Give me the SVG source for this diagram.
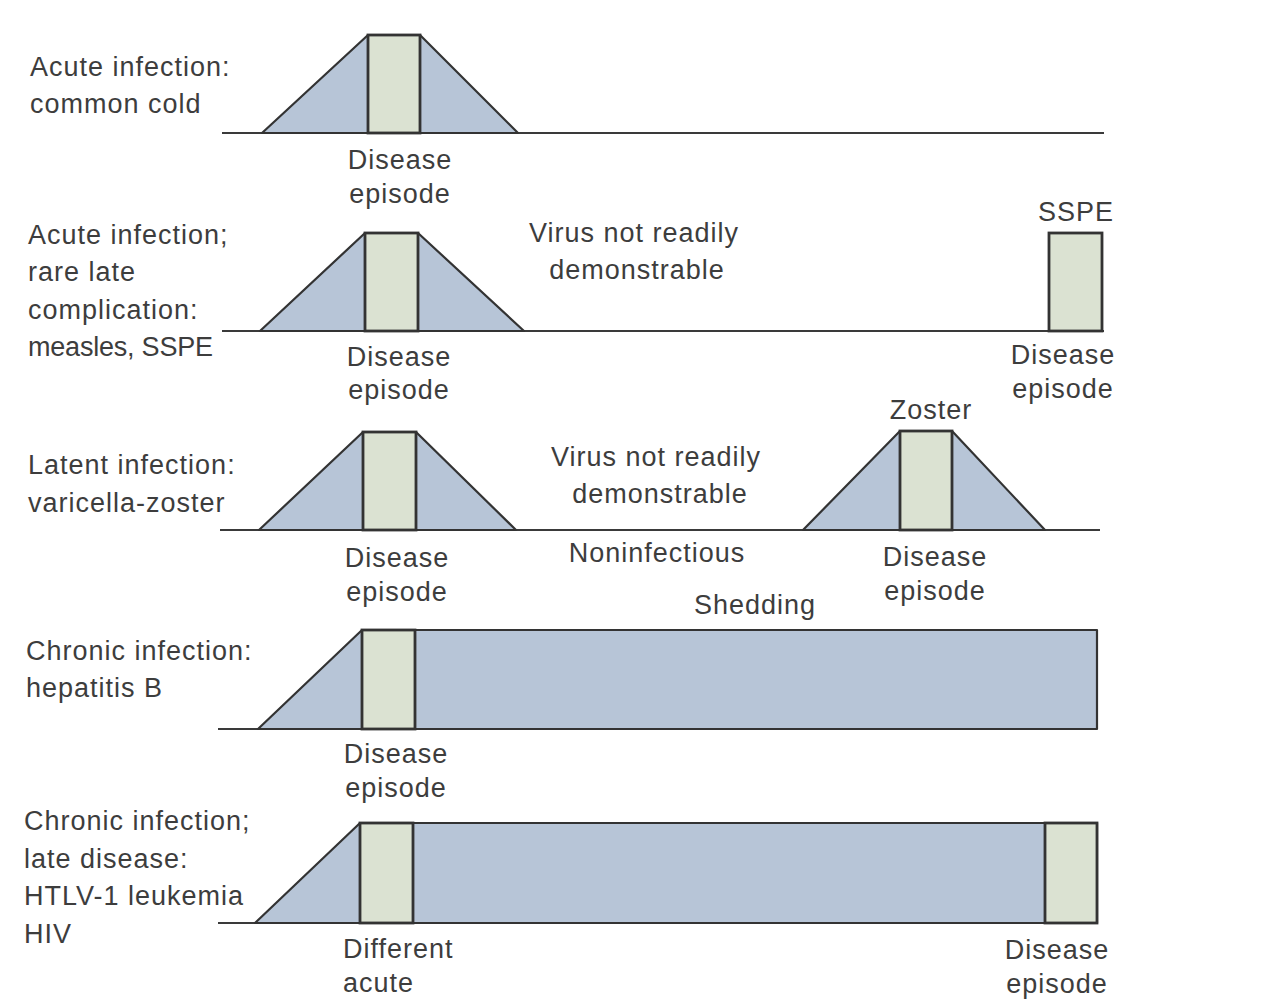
<svg xmlns="http://www.w3.org/2000/svg" width="1273" height="1006" viewBox="0 0 1273 1006">
  <style>
    .bg { fill: #ffffff; }
    .axis { stroke: #3a3a3a; stroke-width: 2.2; fill: none; }
    .virus { fill: #b7c5d7; stroke: #333; stroke-width: 2.2; stroke-linejoin: round; }
    .episode { fill: #dbe2d2; stroke: #333; stroke-width: 2.8; }
    text { font-family: "Liberation Sans", Arial, sans-serif; font-size: 27px; letter-spacing: 1px; fill: #3d3d3d; }
    .c { text-anchor: middle; }
  </style>
  <rect class="bg" x="0" y="0" width="1273" height="1006"/>

  <!-- time axes -->
  <g id="connectors">
    <line class="axis" x1="222" y1="133" x2="1104" y2="133"/>
    <line class="axis" x1="222" y1="331" x2="1104" y2="331"/>
    <line class="axis" x1="220" y1="530" x2="1100" y2="530"/>
    <line class="axis" x1="218" y1="729" x2="1097" y2="729"/>
    <line class="axis" x1="218" y1="923" x2="1097" y2="923"/>
  </g>

  <!-- Row 1: acute infection, common cold -->
  <g id="row-acute">
    <text x="30" y="76">Acute infection:</text>
    <text x="30" y="113">common cold</text>
    <polygon class="virus" points="262,133 368,35 420,35 518,133"/>
    <rect class="episode" x="368" y="35" width="52" height="98"/>
    <text class="c" x="400" y="169">Disease</text>
    <text class="c" x="400" y="203">episode</text>
  </g>

  <!-- Row 2: acute infection with rare late complication -->
  <g id="row-measles">
    <text x="28" y="244">Acute infection;</text>
    <text x="28" y="281">rare late</text>
    <text x="28" y="319">complication:</text>
    <text x="28" y="356" textLength="186" lengthAdjust="spacing">measles, SSPE</text>
    <polygon class="virus" points="260,331 365,233 418,233 524,331"/>
    <rect class="episode" x="365" y="233" width="53" height="98"/>
    <text class="c" x="399" y="366">Disease</text>
    <text class="c" x="399" y="399">episode</text>
    <text class="c" x="634" y="242">Virus not readily</text>
    <text class="c" x="637" y="279">demonstrable</text>
    <text class="c" x="1076" y="221">SSPE</text>
    <rect class="episode" x="1049" y="233" width="53" height="98"/>
    <text class="c" x="1063" y="364">Disease</text>
    <text class="c" x="1063" y="398">episode</text>
  </g>

  <!-- Row 3: latent infection, varicella-zoster -->
  <g id="row-latent">
    <text x="28" y="474">Latent infection:</text>
    <text x="28" y="512">varicella-zoster</text>
    <polygon class="virus" points="259,530 363,432 416,432 516,530"/>
    <rect class="episode" x="363" y="432" width="53" height="98"/>
    <text class="c" x="397" y="567">Disease</text>
    <text class="c" x="397" y="601">episode</text>
    <text class="c" x="656" y="466">Virus not readily</text>
    <text class="c" x="660" y="503">demonstrable</text>
    <text class="c" x="657" y="562">Noninfectious</text>
    <text class="c" x="931" y="419">Zoster</text>
    <polygon class="virus" points="803,530 900,431 952,431 1045,530"/>
    <rect class="episode" x="900" y="431" width="52" height="99"/>
    <text class="c" x="935" y="566">Disease</text>
    <text class="c" x="935" y="600">episode</text>
    <text class="c" x="755" y="614">Shedding</text>
  </g>

  <!-- Row 4: chronic infection, hepatitis B -->
  <g id="row-chronic">
    <text x="26" y="660">Chronic infection:</text>
    <text x="26" y="697">hepatitis B</text>
    <polygon class="virus" points="258,729 362,630 1097,630 1097,729"/>
    <rect class="episode" x="362" y="630" width="53" height="99"/>
    <text class="c" x="396" y="763">Disease</text>
    <text class="c" x="396" y="797">episode</text>
  </g>

  <!-- Row 5: chronic infection with late disease -->
  <g id="row-late">
    <text x="24" y="830">Chronic infection;</text>
    <text x="24" y="868">late disease:</text>
    <text x="24" y="905">HTLV-1 leukemia</text>
    <text x="24" y="943">HIV</text>
    <polygon class="virus" points="255,923 360,823 1097,823 1097,923"/>
    <rect class="episode" x="360" y="823" width="53" height="100"/>
    <rect class="episode" x="1045" y="823" width="52" height="100"/>
    <text x="343" y="958">Different</text>
    <text x="343" y="992">acute</text>
    <text class="c" x="1057" y="959">Disease</text>
    <text class="c" x="1057" y="993">episode</text>
  </g>
</svg>
